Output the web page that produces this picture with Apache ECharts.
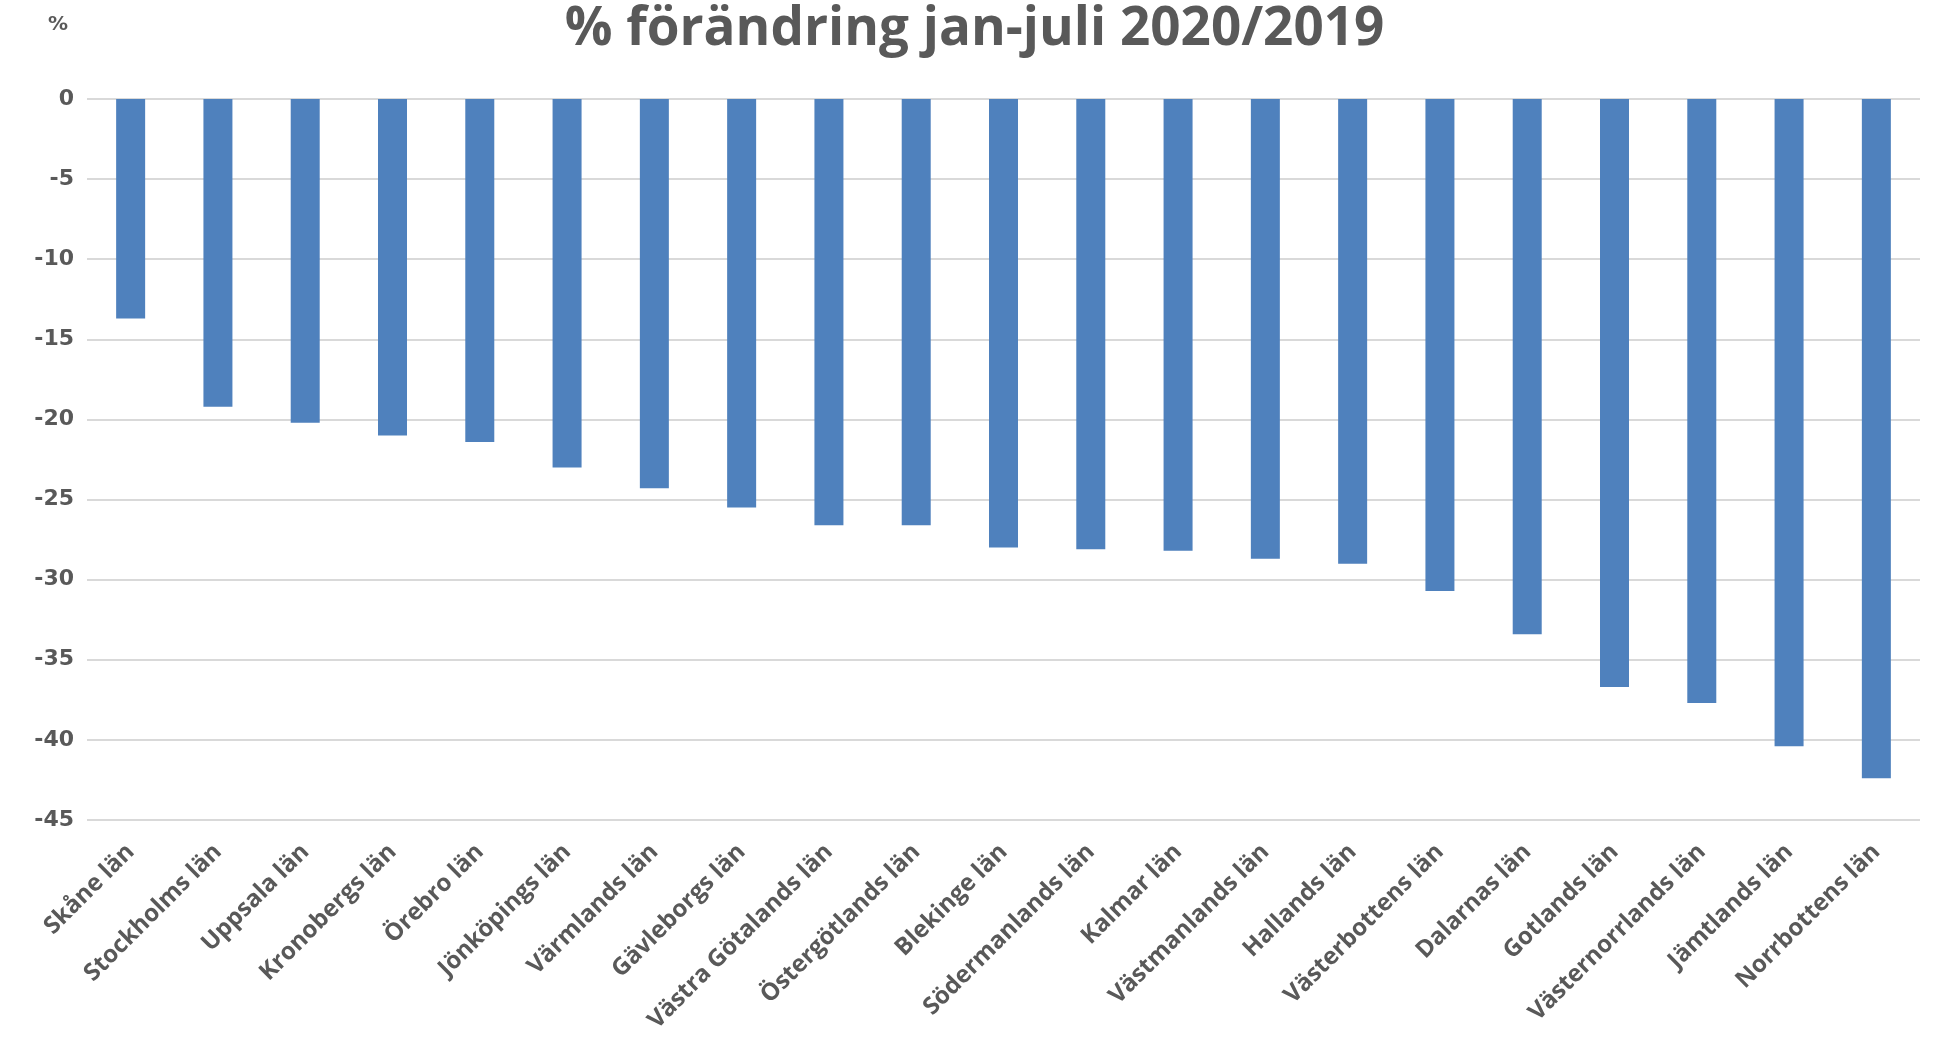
<!DOCTYPE html>
<html>
<head>
<meta charset="utf-8">
<script src="https://cdn.jsdelivr.net/npm/echarts@6/dist/echarts.min.js"></script>
<style>
  html, body { margin: 0; padding: 0; background: #fff; }
  #chart { width: 1949px; height: 1056px; }
</style>
</head>
<body>
<div id="chart"></div>
<script>
// län, sorted by change
var categories = ['Skåne län', 'Stockholms län', 'Uppsala län', 'Kronobergs län', 'Örebro län',
  'Jönköpings län', 'Värmlands län', 'Gävleborgs län', 'Västra Götalands län', 'Östergötlands län',
  'Blekinge län', 'Södermanlands län', 'Kalmar län', 'Västmanlands län', 'Hallands län',
  'Västerbottens län', 'Dalarnas län', 'Gotlands län', 'Västernorrlands län', 'Jämtlands län',
  'Norrbottens län'];
var changePct = [-13.7, -19.2, -20.2, -21.0, -21.4, -23.0, -24.3, -25.5, -26.6, -26.6,
  -28.0, -28.1, -28.2, -28.7, -29.0, -30.7, -33.4, -36.7, -37.7, -40.4, -42.4];

var textColor = '#595959';
var chart = echarts.init(document.getElementById('chart'));
chart.setOption({
  animation: false,
  title: [{
    text: '% förändring jan-juli 2020/2019',
    left: 'center',
    top: -2,
    textStyle: { fontFamily: 'Open Sans', fontWeight: 'bold', fontSize: 53, color: textColor }
  }, {
    text: '%',
    left: 43,
    top: 10,
    textStyle: { fontFamily: 'DejaVu Sans', fontWeight: 'bold', fontSize: 20, color: textColor }
  }],
  grid: { left: 87, right: 29, top: 99, bottom: 236 },
  xAxis: {
    type: 'category',
    data: categories,
    position: 'bottom',
    axisLine: { show: false, onZero: false },
    axisTick: { show: false },
    axisLabel: {
      rotate: 45,
      interval: 0,
      margin: 28,
      fontFamily: 'Open Sans',
      fontWeight: 'bold',
      fontSize: 24,
      color: textColor
    }
  },
  yAxis: {
    type: 'value',
    min: -45,
    max: 0,
    interval: 5,
    axisLine: { show: false },
    axisTick: { show: false },
    axisLabel: {
      margin: 13,
      fontFamily: 'DejaVu Sans',
      fontWeight: 'bold',
      fontSize: 22,
      color: textColor
    },
    splitLine: { lineStyle: { color: '#d9d9d9', width: 2 } }
  },
  series: [{
    type: 'bar',
    data: changePct,
    barWidth: 29,
    itemStyle: { color: '#4f81bd' }
  }]
});
</script>
</body>
</html>
